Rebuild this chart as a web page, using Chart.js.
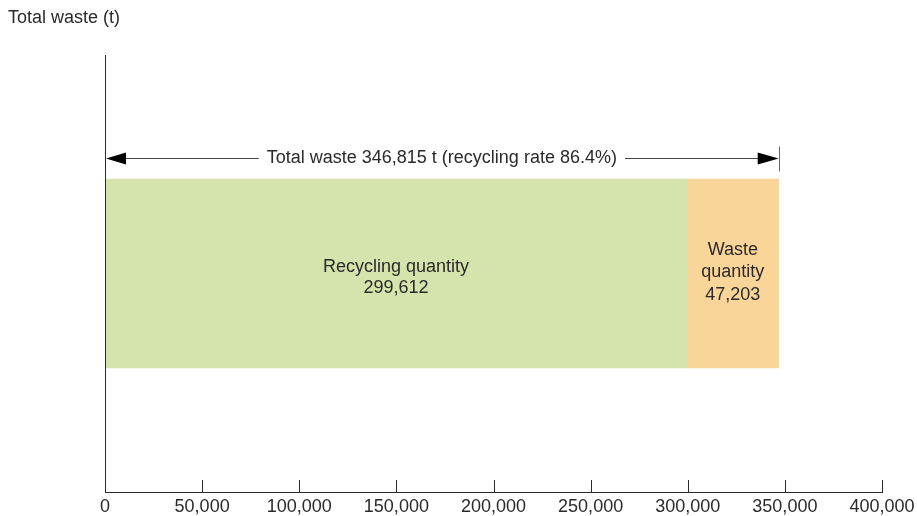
<!DOCTYPE html>
<html>
<head>
<meta charset="utf-8">
<script src="https://cdn.jsdelivr.net/npm/chart.js@4"></script>
<style>
  html, body { margin: 0; padding: 0; background: #fff; }
  #wrap { position: relative; width: 917px; height: 516px; }
  #title { position: absolute; left: 8px; top: 7px; font: 18px "Liberation Sans", Arial, sans-serif; color: #2a2a2a; }
</style>
</head>
<body>
<div id="wrap">
  <div id="title">Total waste (t)</div>
  <canvas id="chart" width="917" height="516"></canvas>
</div>
<script>
// ====== DATA ======
const categories = ['Total waste'];
const seriesNames = ['Recycling quantity', 'Waste quantity'];
const recyclingValues = [299612];
const wasteValues = [47203];
const xTicks = [0, 50000, 100000, 150000, 200000, 250000, 300000, 350000, 400000];
const recyclingRate = 86.4;

const FONT = '"Liberation Sans", Arial, sans-serif';
const INK = '#2a2a2a';

const fmt = v => v.toLocaleString('en-US');

// axis lines, inward tick marks, labels and the total arrow
const decorations = {
  id: 'decorations',
  afterDatasetsDraw(chart) {
    const { ctx, chartArea, scales } = chart;
    const x = scales.x;
    ctx.save();
    ctx.strokeStyle = INK;
    ctx.lineWidth = 1;

    // left axis
    ctx.beginPath();
    ctx.moveTo(chartArea.left + 0.5, chartArea.top);
    ctx.lineTo(chartArea.left + 0.5, chartArea.bottom);
    ctx.stroke();

    // upward tick marks
    xTicks.forEach(v => {
      if (v === 0) return;
      const px = Math.round(x.getPixelForValue(v)) + 0.5;
      ctx.beginPath();
      ctx.moveTo(px, chartArea.bottom);
      ctx.lineTo(px, chartArea.bottom - 12);
      ctx.stroke();
    });

    // bar labels
    const meta0 = chart.getDatasetMeta(0).data[0];
    const meta1 = chart.getDatasetMeta(1).data[0];
    ctx.fillStyle = INK;
    ctx.font = '18px ' + FONT;
    ctx.textAlign = 'center';
    ctx.textBaseline = 'middle';
    const cx0 = (meta0.base + meta0.x) / 2;
    ctx.fillText(seriesNames[0], cx0, meta0.y - 6);
    ctx.fillText(fmt(recyclingValues[0]), cx0, meta0.y + 15);
    const cx1 = (meta1.base + meta1.x) / 2;
    ctx.fillText('Waste', cx1, meta1.y - 23);
    ctx.fillText('quantity', cx1, meta1.y - 1);
    ctx.fillText(fmt(wasteValues[0]), cx1, meta1.y + 22);

    // total arrow
    const total = recyclingValues[0] + wasteValues[0];
    const x0 = x.getPixelForValue(0);
    const x1 = x.getPixelForValue(total);
    const ay = Math.round(meta0.y - meta0.height / 2 - 21) + 0.5;
    const label = 'Total waste ' + fmt(total) + ' t (recycling rate ' + recyclingRate + '%)';
    const mid = (x0 + x1) / 2;
    const tw = ctx.measureText(label).width;
    ctx.fillText(label, mid, ay);
    ctx.strokeStyle = '#444';
    ctx.beginPath();
    ctx.moveTo(x0 + 18, ay);
    ctx.lineTo(mid - tw / 2 - 8, ay);
    ctx.moveTo(mid + tw / 2 + 8, ay);
    ctx.lineTo(x1 - 18, ay);
    ctx.stroke();
    ctx.fillStyle = '#000';
    ctx.beginPath();
    ctx.moveTo(x0 + 1, ay);
    ctx.lineTo(x0 + 21, ay - 6);
    ctx.lineTo(x0 + 21, ay + 6);
    ctx.closePath();
    ctx.fill();
    ctx.beginPath();
    ctx.moveTo(x1, ay);
    ctx.lineTo(x1 - 21, ay - 6);
    ctx.lineTo(x1 - 21, ay + 6);
    ctx.closePath();
    ctx.fill();
    ctx.strokeStyle = '#666';
    ctx.beginPath();
    ctx.moveTo(Math.round(x1) + 0.5, ay - 12);
    ctx.lineTo(Math.round(x1) + 0.5, ay + 13);
    ctx.stroke();
    ctx.restore();
  }
};

new Chart(document.getElementById('chart'), {
  type: 'bar',
  data: {
    labels: categories,
    datasets: [
      { label: seriesNames[0], data: recyclingValues, backgroundColor: '#d4e4ac', barThickness: 189 },
      { label: seriesNames[1], data: wasteValues, backgroundColor: '#fad59a', barThickness: 189 }
    ]
  },
  options: {
    indexAxis: 'y',
    responsive: false,
    animation: false,
    layout: { padding: { left: 105, right: 35, top: 55, bottom: 0 } },
    plugins: { legend: { display: false }, tooltip: { enabled: false } },
    scales: {
      x: {
        stacked: true,
        min: 0,
        max: 400000,
        afterBuildTicks: axis => { axis.ticks = xTicks.map(v => ({ value: v })); },
        afterFit: axis => { axis.height = 24; axis.paddingLeft = 0; axis.paddingRight = 0; },
        grid: { display: false, drawTicks: false },
        border: { display: true, color: INK, width: 1 },
        ticks: {
          color: INK,
          padding: 4,
          maxRotation: 0,
          font: { family: FONT, size: 18 },
          callback: v => fmt(v)
        }
      },
      y: { stacked: true, display: false }
    }
  },
  plugins: [decorations]
});
</script>
</body>
</html>
